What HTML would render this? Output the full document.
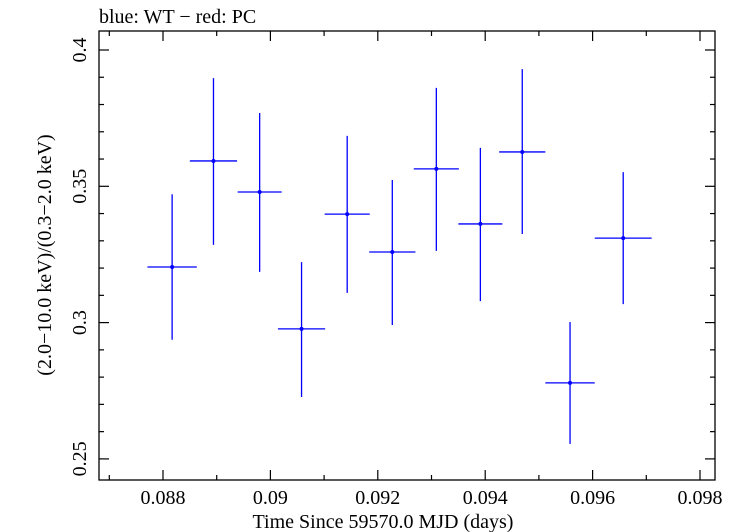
<!DOCTYPE html>
<html><head><meta charset="utf-8"><style>
body{margin:0;background:#fff}
svg{display:block;font-family:"Liberation Serif",serif}
</style></head><body>
<svg id="chart" width="733" height="532" viewBox="0 0 733 532" xmlns="http://www.w3.org/2000/svg">
<text x="99" y="23" font-size="20">blue: WT − red: PC</text>
<text x="383" y="528" font-size="20" text-anchor="middle">Time Since 59570.0 MJD (days)</text>
<text transform="translate(51,255) rotate(-90)" font-size="20" text-anchor="middle">(2.0−10.0 keV)/(0.3−2.0 keV)</text>
<g id="axes"></g>
<g id="marks"></g>
<rect x="99" y="31" width="616" height="449" fill="none" stroke="#000" stroke-width="1.3"/>
</svg>
<script>
const xCenters=[0.08817,0.08894,0.08980,0.09058,0.09143,0.09227,0.09309,0.09391,0.09469,0.09558,0.09657];
const xHalfWidths=[0.00046,0.00044,0.00041,0.00044,0.00042,0.00043,0.00042,0.00041,0.00043,0.00046,0.00053];
const ratios=[0.3204,0.3593,0.3479,0.2977,0.3398,0.3259,0.3564,0.3362,0.3626,0.2779,0.3310];
const ratioHi=[0.3471,0.3897,0.3769,0.3222,0.3685,0.3523,0.3861,0.3641,0.3930,0.3002,0.3552];
const ratioLo=[0.2937,0.3285,0.3186,0.2727,0.3109,0.2991,0.3263,0.3079,0.3325,0.2555,0.3068];
const xTickLabels=["0.088","0.09","0.092","0.094","0.096","0.098"];
const yTickLabels=["0.25","0.3","0.35","0.4"];

const L=99,R=715,T=31,B=480;
const sx=v=>163+(v-0.088)*53700;
const sy=v=>50+(0.4-v)/0.05*136.3;
const NS="http://www.w3.org/2000/svg";
const axes=document.getElementById('axes'),marks=document.getElementById('marks');
function ln(g,x1,y1,x2,y2,c,w){const l=document.createElementNS(NS,'line');
l.setAttribute('x1',x1);l.setAttribute('y1',y1);l.setAttribute('x2',x2);l.setAttribute('y2',y2);
l.setAttribute('stroke',c);l.setAttribute('stroke-width',w);g.appendChild(l);return l;}
for(let i=87;i<=98;i++){const v=i/1000,x=sx(v);if(x<L||x>R)continue;const major=i%2===0;const len=major?10:5;
const a=ln(axes,x,B,x,B-len,'#000',1.2);


const b=ln(axes,x,T,x,T+len,'#000',1.2);

}
xTickLabels.forEach(s=>{const t=document.createElementNS(NS,'text');t.setAttribute('x',sx(parseFloat(s)));t.setAttribute('y',504);
t.setAttribute('font-size','20');t.setAttribute('text-anchor','middle');t.textContent=s;


axes.appendChild(t);});
for(let i=25;i<=41;i++){const v=i/100,y=sy(v);if(y<T||y>B)continue;const major=i%5===0;const len=major?10:5;
const a=ln(axes,L,y,L+len,y,'#000',1.2);


const b=ln(axes,R,y,R-len,y,'#000',1.2);

}
yTickLabels.forEach(s=>{const t=document.createElementNS(NS,'text');const y=sy(parseFloat(s));
t.setAttribute('transform','translate(86,'+y+') rotate(-90)');t.setAttribute('font-size','20');t.setAttribute('text-anchor','middle');t.textContent=s;


axes.appendChild(t);});
xCenters.forEach((xc,i)=>{const g=document.createElementNS(NS,'g');


ln(g,sx(xc-xHalfWidths[i]),sy(ratios[i]),sx(xc+xHalfWidths[i]),sy(ratios[i]),'#0000ff',1.3);
ln(g,sx(xc),sy(ratioHi[i]),sx(xc),sy(ratioLo[i]),'#0000ff',1.3);
const c=document.createElementNS(NS,'circle');c.setAttribute('cx',sx(xc));c.setAttribute('cy',sy(ratios[i]));c.setAttribute('r',2);c.setAttribute('fill','#0000ff');g.appendChild(c);
marks.appendChild(g);});
</script>
</body></html>
